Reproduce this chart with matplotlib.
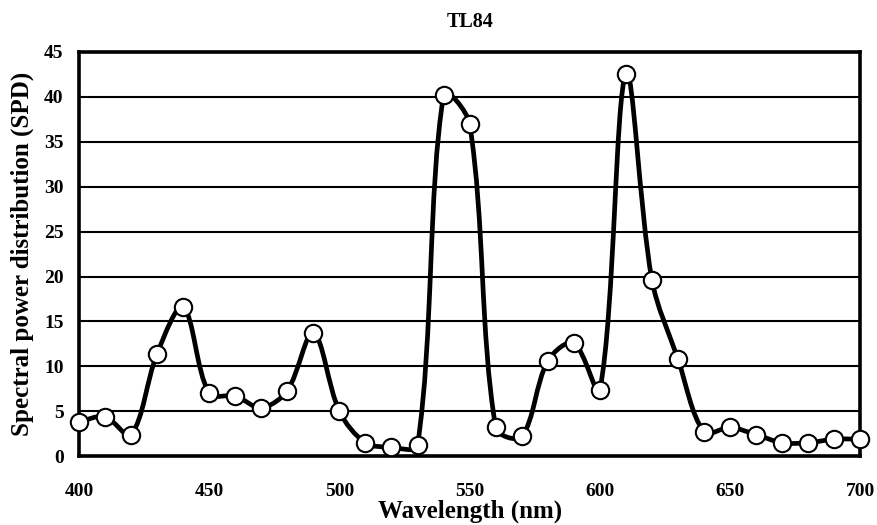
import numpy as np
import matplotlib.pyplot as plt
from matplotlib.path import Path
from matplotlib.patches import PathPatch

plt.rcParams['font.family'] = ['Liberation Serif', 'DejaVu Serif']
plt.rcParams['font.weight'] = 'bold'

# TL84 spectral power distribution, 400-700 nm every 10 nm
wavelength = list(range(400, 701, 10))
spd = [3.8, 4.4, 2.4, 11.4, 16.6, 7.0, 6.7, 5.4, 7.3, 13.7,
       5.0, 1.5, 1.0, 1.2, 40.2, 37.0, 3.2, 2.2, 10.6, 12.6,
       7.35, 42.6, 19.6, 10.8, 2.7, 3.2, 2.4, 1.5, 1.5, 1.9, 1.9]

x_ticks = [400, 450, 500, 550, 600, 650, 700]
y_ticks = list(range(0, 46, 5))


def smooth_path(ax, x, y):
    # Excel-style smoothed line: Bezier control points scaled by
    # neighbouring segment lengths measured on screen
    pts = ax.transData.transform(np.column_stack([x, y]))
    n = len(pts)
    seg = np.hypot(*np.diff(pts, axis=0).T)
    verts = [pts[0]]
    codes = [Path.MOVETO]
    for i in range(n - 1):
        p1, p2 = pts[i], pts[i + 1]
        p0 = pts[i - 1] if i > 0 else p1
        p3 = pts[i + 2] if i + 2 < n else p2
        d01 = seg[i - 1] if i > 0 else 0.0
        d12 = seg[i]
        d23 = seg[i + 1] if i + 2 < n else 0.0
        f1 = d12 / (d01 + d12) / 3 if i > 0 else 1 / 6
        f2 = d12 / (d12 + d23) / 3 if i + 2 < n else 1 / 6
        verts += [p1 + (p2 - p0) * f1, p2 - (p3 - p1) * f2, p2]
        codes += [Path.CURVE4] * 3
    verts = ax.transData.inverted().transform(np.array(verts))
    return Path(verts, codes)


fig = plt.figure(figsize=(8.77, 5.25), dpi=100)
ax = fig.add_axes([0.090, 0.131, 0.891, 0.770])
ax.set_xlim(400, 700)
ax.set_ylim(0, 45)

for yv in y_ticks[1:]:
    ax.axhline(yv, color='black', lw=1.5, zorder=1)

ax.add_patch(PathPatch(smooth_path(ax, wavelength, spd), fill=False,
                       edgecolor='black', lw=3.4, zorder=3, clip_on=False))
ax.plot(wavelength, spd, ls='none', marker='o', ms=12.5, mfc='white',
        mec='black', mew=1.5, zorder=4, clip_on=False)

ax.set_xticks(x_ticks)
ax.set_yticks(y_ticks)
ax.tick_params(length=0, labelsize=14)
ax.tick_params(axis='x', pad=19)
ax.tick_params(axis='y', pad=11)
for sp in ax.spines.values():
    sp.set_linewidth(2.6)
    sp.set_color('black')

ax.set_title('TL84', fontsize=14.5, fontweight='bold', pad=18)
ax.set_xlabel('Wavelength (nm)', fontsize=18, fontweight='bold', labelpad=0)
ax.set_ylabel('Spectral power distribution (SPD)', fontsize=18,
              fontweight='bold', labelpad=7)

fig.savefig('out.png', dpi=100)
